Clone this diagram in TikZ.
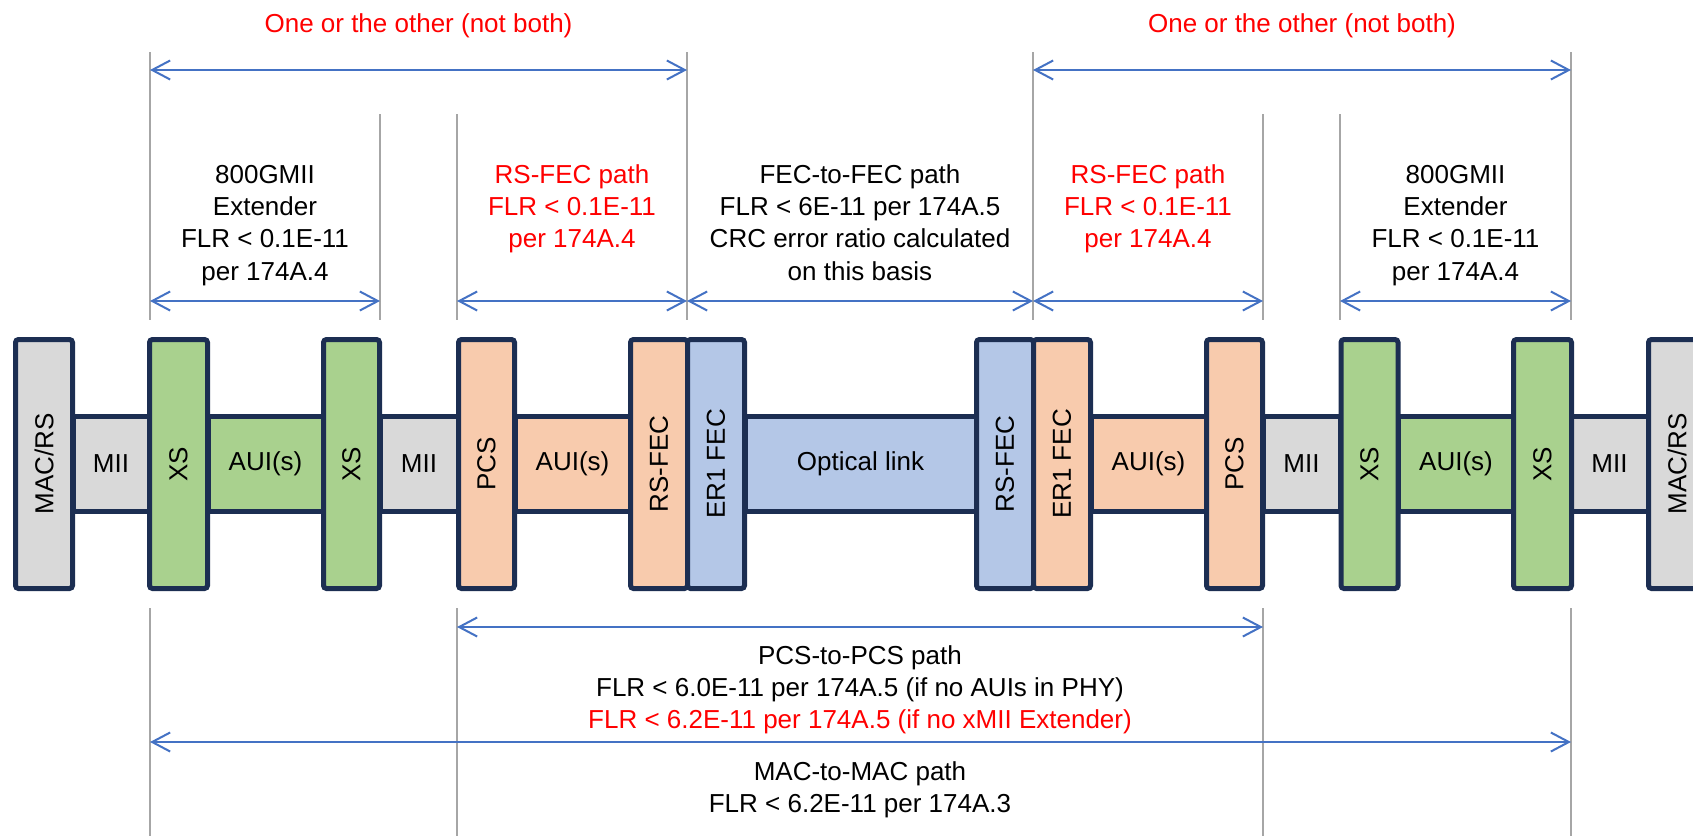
\documentclass[tikz,border=0pt]{standalone}
\usepackage{fontspec}
\setmainfont{Liberation Sans}
\usepackage{graphicx}
\usetikzlibrary{arrows.meta}
\definecolor{navy}{RGB}{28,46,82}
\definecolor{boxgray}{HTML}{D9D9D9}
\definecolor{boxgreen}{HTML}{A9D18E}
\definecolor{boxpeach}{HTML}{F8CBAD}
\definecolor{boxblue}{HTML}{B4C7E7}
\definecolor{guidegray}{HTML}{A6A6A6}
\definecolor{arrowblue}{HTML}{4472C4}
\definecolor{txtred}{HTML}{FF0000}
\begin{document}
\begin{tikzpicture}[x=0.5pt,y=-0.5pt,
  font=\fontsize{13}{16.2}\selectfont,
  tall/.style={draw=navy, line width=2.5pt, rounded corners=1.5pt, inner sep=0pt, minimum height=124.5pt},
  bar/.style={draw=navy, line width=2.5pt, inner sep=0pt, minimum height=47.5pt},
  guide/.style={draw=guidegray, line width=0.9pt},
  dim/.style={draw=arrowblue, line width=1pt, {Straight Barb[length=9pt,width=9.5pt]}-{Straight Barb[length=9pt,width=9.5pt]}},
  lbl/.style={align=center, inner sep=0pt, anchor=north}]
\useasboundingbox (0,0) rectangle (1693,836);

% ---- horizontal bars (behind) ----
\node[bar, fill=boxgray,  minimum width=38pt]   (mii1) at (111,464)    {MII};
\node[bar, fill=boxgreen, minimum width=57.5pt] (aui1) at (265.5,464)  {AUI(s)};
\node[bar, fill=boxgray,  minimum width=39pt]   (mii2) at (419,464)    {MII};
\node[bar, fill=boxpeach, minimum width=57.5pt] (aui2) at (572.5,464)  {AUI(s)};
\node[bar, fill=boxblue,  minimum width=115.5pt](optl) at (860.5,464)  {Optical link};
\node[bar, fill=boxpeach, minimum width=57.5pt] (aui3) at (1148.5,464) {AUI(s)};
\node[bar, fill=boxgray,  minimum width=38.5pt] (mii3) at (1301.5,464) {MII};
\node[bar, fill=boxgreen, minimum width=58pt]   (aui4) at (1456,464)   {AUI(s)};
\node[bar, fill=boxgray,  minimum width=38.5pt] (mii4) at (1609.5,464) {MII};

% ---- tall boxes ----
\node[tall, fill=boxgray,  minimum width=28.5pt] (macL)  at (44,464)     {\rotatebox{90}{MAC/RS}};
\node[tall, fill=boxgreen, minimum width=29pt]   (xs1)   at (178.5,464)  {\rotatebox{90}{XS}};
\node[tall, fill=boxgreen, minimum width=28pt]   (xs2)   at (351.5,464)  {\rotatebox{90}{XS}};
\node[tall, fill=boxpeach, minimum width=28pt]   (pcs1)  at (486.5,464)  {\rotatebox{90}{PCS}};
\node[tall, fill=boxpeach, minimum width=28.5pt] (rsf1)  at (659,464)    {\rotatebox{90}{RS-FEC}};
\node[tall, fill=boxblue,  minimum width=28.5pt] (er1a)  at (716,464)    {\rotatebox{90}{ER1 FEC}};
\node[tall, fill=boxblue,  minimum width=28.5pt] (rsf2)  at (1005,464)   {\rotatebox{90}{RS-FEC}};
\node[tall, fill=boxpeach, minimum width=28.5pt] (er1b)  at (1062,464)   {\rotatebox{90}{ER1 FEC}};
\node[tall, fill=boxpeach, minimum width=28pt]   (pcs2)  at (1234.5,464) {\rotatebox{90}{PCS}};
\node[tall, fill=boxgreen, minimum width=28.5pt] (xs3)   at (1369.5,464) {\rotatebox{90}{XS}};
\node[tall, fill=boxgreen, minimum width=29pt]   (xs4)   at (1542.5,464) {\rotatebox{90}{XS}};
\node[tall, fill=boxgray,  minimum width=28.5pt] (macR)  at (1677,464)   {\rotatebox{90}{MAC/RS}};

% ---- guide lines (top) ----
\coordinate (gA1) at (150,52);   \coordinate (gA2) at (150,320);
\coordinate (gB1) at (687,52);   \coordinate (gB2) at (687,320);
\coordinate (gC1) at (1033,52);  \coordinate (gC2) at (1033,320);
\coordinate (gD1) at (1571,52);  \coordinate (gD2) at (1571,320);
\coordinate (gE1) at (380,114);  \coordinate (gE2) at (380,320);
\coordinate (gF1) at (457,114);  \coordinate (gF2) at (457,320);
\coordinate (gG1) at (1263,114); \coordinate (gG2) at (1263,320);
\coordinate (gH1) at (1340,114); \coordinate (gH2) at (1340,320);
\foreach \g in {A,B,C,D,E,F,G,H} \draw[guide] (g\g1) -- (g\g2);
% ---- guide lines (bottom) ----
\coordinate (bA1) at (150,608);  \coordinate (bA2) at (150,836);
\coordinate (bB1) at (457,608);  \coordinate (bB2) at (457,836);
\coordinate (bC1) at (1263,608); \coordinate (bC2) at (1263,836);
\coordinate (bD1) at (1571,608); \coordinate (bD2) at (1571,836);
\foreach \g in {A,B,C,D} \draw[guide] (b\g1) -- (b\g2);

% ---- dimension arrows ----
\coordinate (t1l) at (150,70);  \coordinate (t1r) at (687,70);
\coordinate (t2l) at (1033,70); \coordinate (t2r) at (1571,70);
\draw[dim] (t1l) -- (t1r);
\draw[dim] (t2l) -- (t2r);
\coordinate (s1) at (150,301);  \coordinate (s2) at (380,301);
\coordinate (s3) at (457,301);  \coordinate (s4) at (687,301);
\coordinate (s5) at (1033,301); \coordinate (s6) at (1263,301);
\coordinate (s7) at (1340,301); \coordinate (s8) at (1571,301);
\draw[dim] (s1) -- (s2);
\draw[dim] (s3) -- (s4);
\draw[dim] (s4) -- (s5);
\draw[dim] (s5) -- (s6);
\draw[dim] (s7) -- (s8);
\coordinate (p1) at (457,627);  \coordinate (p2) at (1263,627);
\coordinate (m1) at (150,742);  \coordinate (m2) at (1571,742);
\draw[dim] (p1) -- (p2);
\draw[dim] (m1) -- (m2);

% ---- labels ----
\node[lbl, text=txtred] (oneL) at (418.5,9) {\strut One or the other (not both)};
\node[lbl, text=txtred] (oneR) at (1302,9)  {\strut One or the other (not both)};
\node[lbl] (extL) at (265,160) {\strut 800GMII\\Extender\\FLR < 0.1E-11\\per 174A.4};
\node[lbl, text=txtred] (rsL) at (572,160) {\strut RS-FEC path\\FLR < 0.1E-11\\per 174A.4};
\node[lbl] (f2f) at (860,160) {\strut FEC-to-FEC path\\FLR < 6E-11 per 174A.5\\CRC error ratio calculated\\on this basis};
\node[lbl, text=txtred] (rsR) at (1148,160) {\strut RS-FEC path\\FLR < 0.1E-11\\per 174A.4};
\node[lbl] (extR) at (1455.5,160) {\strut 800GMII\\Extender\\FLR < 0.1E-11\\per 174A.4};
\node[lbl] (p2p) at (860,641) {\strut PCS-to-PCS path\\FLR < 6.0E-11 per 174A.5 (if no AUIs in PHY)\\\textcolor{txtred}{FLR < 6.2E-11 per 174A.5 (if no xMII Extender)}};
\node[lbl] (m2m) at (860,757) {\strut MAC-to-MAC path\\FLR < 6.2E-11 per 174A.3};
\end{tikzpicture}
\end{document}
